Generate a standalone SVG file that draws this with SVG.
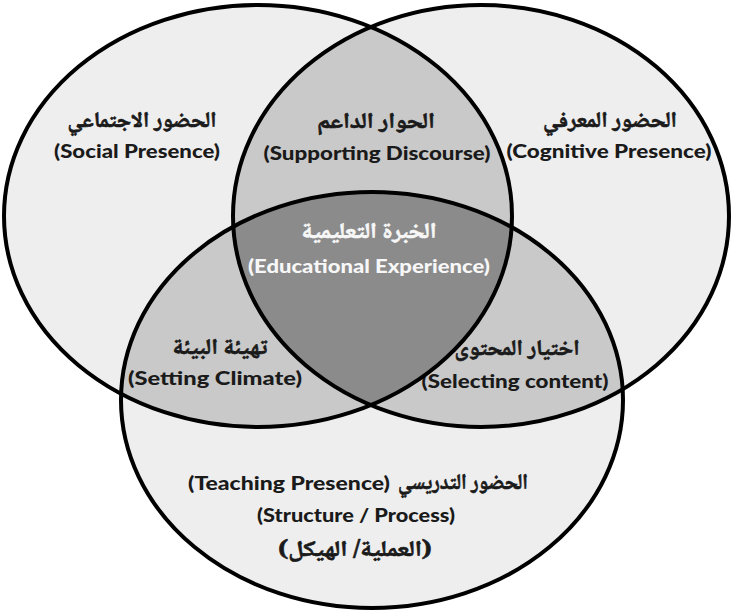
<svg xmlns="http://www.w3.org/2000/svg" xmlns:xlink="http://www.w3.org/1999/xlink" width="731" height="613" viewBox="0 0 731 613">
  <style>
    .light { fill: #eeeeee; }
    .mid { fill: #c9c9c9; }
    .dark { fill: #8b8b8b; }
    .outline { fill: none; stroke: #000; stroke-width: 4; }
    .en { font-family: Lato, "Open Sans", "DejaVu Sans", sans-serif; font-weight: 900; font-size: 19px; fill: #1a1a1a; text-anchor: middle; }
    .ar { font-family: "Noto Naskh Arabic", "DejaVu Sans", sans-serif; font-weight: 700; font-size: 22px; fill: #1a1a1a; stroke: #1a1a1a; stroke-width: 0.6px; text-anchor: middle; direction: rtl; }
    .white { fill: #f7f7f7; stroke: #f7f7f7; }
    .en.white { stroke: none; }
  </style>
  <defs>
    <ellipse id="social" cx="258" cy="216" rx="254" ry="211"/>
    <ellipse id="cognitive" cx="481" cy="216" rx="248" ry="211"/>
    <ellipse id="teaching" cx="372" cy="400" rx="251" ry="208"/>
    <clipPath id="clipSocial"><use xlink:href="#social"/></clipPath>
    <clipPath id="clipCognitive"><use xlink:href="#cognitive"/></clipPath>
  </defs>

  <rect width="731" height="613" fill="#ffffff"/>

  <!-- Three presences -->
  <g id="social-presence">
    <use xlink:href="#social" class="light"/>
    <text class="ar" x="142" y="127" textLength="149" lengthAdjust="spacingAndGlyphs">الحضور الاجتماعي</text>
    <text class="en" x="137" y="158" textLength="166" lengthAdjust="spacingAndGlyphs">(Social Presence)</text>
  </g>
  <g id="cognitive-presence">
    <use xlink:href="#cognitive" class="light"/>
    <text class="ar" x="610" y="127" textLength="134" lengthAdjust="spacingAndGlyphs">الحضور المعرفي</text>
    <text class="en" x="609" y="158" textLength="205" lengthAdjust="spacingAndGlyphs">(Cognitive Presence)</text>
  </g>
  <g id="teaching-presence">
    <use xlink:href="#teaching" class="light"/>
    <text class="ar" x="463" y="489" textLength="130" lengthAdjust="spacingAndGlyphs">الحضور التدريسي</text>
    <text class="en" x="289" y="490" textLength="202" lengthAdjust="spacingAndGlyphs">(Teaching Presence)</text>
    <text class="en" x="356" y="522" textLength="198" lengthAdjust="spacingAndGlyphs">(Structure / Process)</text>
    <text class="ar" x="355" y="556" textLength="154" lengthAdjust="spacingAndGlyphs">(العملية/ الهيكل)</text>
  </g>

  <!-- Pairwise overlaps -->
  <g id="supporting-discourse">
    <use xlink:href="#cognitive" class="mid" clip-path="url(#clipSocial)"/>
    <text class="ar" x="376" y="128" textLength="118" lengthAdjust="spacingAndGlyphs">الحوار الداعم</text>
    <text class="en" x="377" y="160" textLength="227" lengthAdjust="spacingAndGlyphs">(Supporting Discourse)</text>
  </g>
  <g id="setting-climate">
    <use xlink:href="#teaching" class="mid" clip-path="url(#clipSocial)"/>
    <text class="ar" x="220" y="354" textLength="95" lengthAdjust="spacingAndGlyphs">تهيئة البيئة</text>
    <text class="en" x="215" y="385" textLength="174" lengthAdjust="spacingAndGlyphs">(Setting Climate)</text>
  </g>
  <g id="selecting-content">
    <use xlink:href="#teaching" class="mid" clip-path="url(#clipCognitive)"/>
    <text class="ar" x="517" y="355" textLength="125" lengthAdjust="spacingAndGlyphs">اختيار المحتوى</text>
    <text class="en" x="515" y="388" textLength="187" lengthAdjust="spacingAndGlyphs">(Selecting content)</text>
  </g>

  <!-- Central overlap -->
  <g id="educational-experience">
    <g clip-path="url(#clipSocial)">
      <use xlink:href="#teaching" class="dark" clip-path="url(#clipCognitive)"/>
    </g>
    <text class="ar white" x="369" y="238" textLength="135" lengthAdjust="spacingAndGlyphs">الخبرة التعليمية</text>
    <text class="en white" x="369" y="273" textLength="242" lengthAdjust="spacingAndGlyphs">(Educational Experience)</text>
  </g>

  <!-- Circle outlines -->
  <g id="outlines">
    <use xlink:href="#social" class="outline"/>
    <use xlink:href="#cognitive" class="outline"/>
    <use xlink:href="#teaching" class="outline"/>
  </g>
</svg>
